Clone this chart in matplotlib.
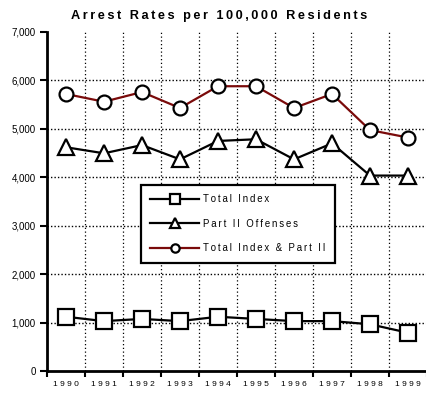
import matplotlib
matplotlib.use("Agg")
import matplotlib.pyplot as plt
from matplotlib.ticker import FixedLocator, FuncFormatter

years = ["1990", "1991", "1992", "1993", "1994", "1995", "1996", "1997", "1998", "1999"]
total_index = [1120, 1030, 1075, 1030, 1120, 1075, 1030, 1030, 965, 790]
part_ii = [4620, 4495, 4665, 4370, 4750, 4785, 4370, 4700, 4035, 4035]
total_plus_part_ii = [5720, 5560, 5760, 5430, 5880, 5880, 5430, 5720, 4975, 4820]
y_ticks = [0, 1000, 2000, 3000, 4000, 5000, 6000, 7000]

def spaced(s, sep="\u2009"):
    return sep.join(s)

plt.rcParams["font.family"] = ["Liberation Sans", "DejaVu Sans"]

fig = plt.figure(figsize=(4.27, 3.93), dpi=100)
ax = fig.add_axes([0.110, 0.056, 0.890, 0.8626])

x = list(range(len(years)))
dark_red = "#7a0a0a"

ax.plot(x, total_index, color="black", lw=1.6, marker="s", ms=11,
        mfc="white", mec="black", mew=1.6, label=spaced("Total Index"), zorder=5)
ax.plot(x, part_ii, color="black", lw=1.6, marker="^", ms=12,
        mfc="white", mec="black", mew=1.6, label=spaced("Part II Offenses"), zorder=5)
ax.plot(x, total_plus_part_ii, color=dark_red, lw=1.6, marker="o", ms=10,
        mfc="white", mec="black", mew=1.6, label=spaced("Total Index & Part II"), zorder=5)

ax.set_xlim(-0.5, len(years) - 0.5)
ax.set_ylim(0, 7000)

# categories sit between the boundary ticks
ax.xaxis.set_major_locator(FixedLocator(x))
ax.set_xticklabels([spaced(y, " ") for y in years], fontsize=6)
ax.xaxis.set_minor_locator(FixedLocator([i + 0.5 for i in range(-1, len(years))]))
ax.tick_params(axis="x", which="major", length=0, pad=7)
ax.tick_params(axis="x", which="minor", length=4, width=1.5, direction="out")

ax.yaxis.set_major_locator(FixedLocator(y_ticks))
ax.yaxis.set_major_formatter(FuncFormatter(lambda v, p: f"{int(v):,}"))
ax.tick_params(axis="y", length=5, width=1.5, labelsize=7, pad=3)

for v in y_ticks[1:-1]:
    ax.axhline(v, color="black", lw=1.0, ls=(0, (1, 1.5)), zorder=1)
for b in [i + 0.5 for i in range(len(years) - 1)]:
    ax.axvline(b, color="black", lw=0.9, ls=(0, (1, 2)), zorder=1)

for side in ("top", "right"):
    ax.spines[side].set_visible(False)
ax.spines["left"].set_linewidth(2)
ax.spines["bottom"].set_linewidth(2)

leg = ax.legend(loc="upper left", bbox_to_anchor=(0.247, 0.549), fontsize=6.9,
                frameon=True, fancybox=False, handlelength=5.1, handletextpad=0.35,
                labelspacing=1.5, borderpad=1.0, markerscale=0.6, borderaxespad=0)
leg.get_frame().set_edgecolor("black")
leg.get_frame().set_linewidth(1.6)
leg.get_frame().set_alpha(1)
leg.set_zorder(10)

fig.text(0.514, 0.959, spaced("Arrest Rates per 100,000 Residents"),
         ha="center", va="center", fontsize=9.2, fontweight="bold")

fig.savefig("out.png", dpi=100)
